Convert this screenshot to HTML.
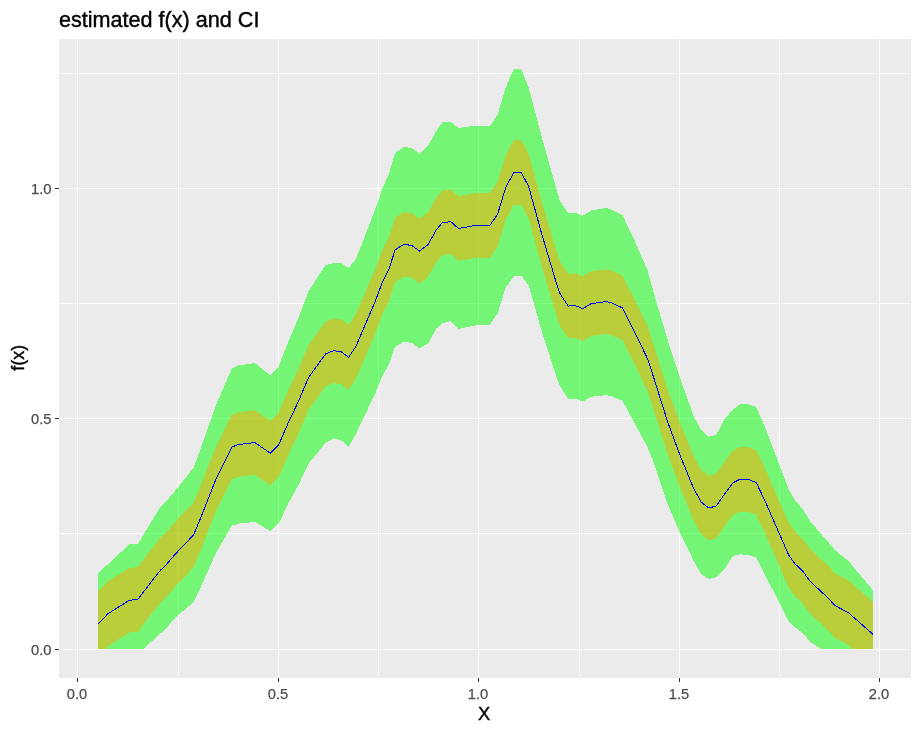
<!DOCTYPE html>
<html lang="en"><head><meta charset="utf-8"><title>estimated f(x) and CI</title>
<style>html,body{margin:0;padding:0;background:#fff;}body{width:921px;height:733px;overflow:hidden;}svg{display:block;}</style>
</head><body>
<svg width="921" height="733" viewBox="0 0 921 733">
<rect x="0" y="0" width="921" height="733" fill="#ffffff"/>
<rect x="59" y="39" width="852.00" height="639.00" fill="#EBEBEB"/>
<clipPath id="pc"><rect x="59" y="39" width="852.00" height="639.00"/></clipPath>
<g clip-path="url(#pc)">
<g stroke="#FFFFFF" stroke-width="1" shape-rendering="crispEdges">
<line x1="178.50" x2="178.50" y1="39" y2="678"/>
<line x1="378.50" x2="378.50" y1="39" y2="678"/>
<line x1="579.50" x2="579.50" y1="39" y2="678"/>
<line x1="779.50" x2="779.50" y1="39" y2="678"/>
<line y1="533.50" y2="533.50" x1="59" x2="911"/>
<line y1="303.50" y2="303.50" x1="59" x2="911"/>
<line y1="73.50" y2="73.50" x1="59" x2="911"/>
</g>
<g stroke="#FFFFFF" stroke-width="1" shape-rendering="crispEdges">
<line x1="77.50" x2="77.50" y1="39" y2="678"/>
<line x1="278.50" x2="278.50" y1="39" y2="678"/>
<line x1="478.50" x2="478.50" y1="39" y2="678"/>
<line x1="679.50" x2="679.50" y1="39" y2="678"/>
<line x1="879.50" x2="879.50" y1="39" y2="678"/>
<line y1="649.50" y2="649.50" x1="59" x2="911"/>
<line y1="418.50" y2="418.50" x1="59" x2="911"/>
<line y1="188.50" y2="188.50" x1="59" x2="911"/>
</g>
<polygon points="98.1,573.2 108.0,564.1 129.3,544.3 138.0,543.9 151.2,521.8 160.4,507.0 165.5,502.0 175.6,490.3 193.6,467.6 199.9,450.7 216.1,404.7 231.9,368.4 238.6,365.4 254.8,363.1 270.3,375.4 278.6,366.5 288.7,340.7 298.5,317.6 308.6,291.2 325.5,265.0 333.6,263.1 341.1,263.1 348.7,267.9 356.1,258.7 374.8,210.5 382.5,188.0 388.7,174.5 395.1,153.2 403.6,147.0 411.7,148.0 419.6,153.7 428.2,145.7 436.2,131.1 442.4,122.3 450.8,122.1 458.4,127.9 468.2,126.7 473.0,125.8 481.0,125.9 489.9,126.1 497.6,114.9 505.7,87.4 513.9,68.7 521.2,69.2 528.7,87.5 541.1,134.5 556.0,187.8 560.0,201.2 568.2,213.2 574.9,212.7 582.9,215.7 591.2,210.5 606.2,208.0 610.4,209.0 622.4,215.0 633.7,238.6 647.5,270.2 653.7,292.6 667.4,339.1 679.9,377.4 693.7,416.2 701.2,430.2 708.6,436.7 716.1,435.1 724.9,418.7 733.0,409.5 739.9,404.4 748.0,404.0 756.1,407.1 764.8,426.5 788.6,489.1 794.9,500.1 802.4,508.7 809.9,520.8 827.4,541.2 834.8,549.9 848.6,561.1 873.0,590.4 873.0,649.0 848.6,649.0 834.8,649.0 827.4,649.0 820.8,649.0 809.9,641.4 802.4,632.7 794.9,627.3 788.6,620.7 764.8,574.5 756.1,557.7 748.0,554.8 739.9,554.4 733.0,555.9 724.9,568.5 716.1,577.1 708.6,579.3 701.2,573.8 693.7,561.0 679.9,532.4 667.4,503.3 653.7,462.4 647.5,447.2 633.7,421.4 622.4,400.8 610.4,395.8 606.2,395.2 591.2,396.7 582.9,401.5 574.9,398.5 568.2,399.0 560.0,386.0 556.0,375.8 541.1,329.1 528.7,285.5 521.2,275.6 513.9,276.1 505.7,287.4 497.6,313.5 489.9,324.5 481.0,325.1 473.0,325.6 468.2,326.9 458.4,329.1 450.8,321.1 442.4,323.1 436.2,328.7 428.2,343.1 419.6,348.5 411.7,342.8 403.6,341.8 395.1,346.8 388.7,365.1 382.5,375.6 374.8,394.3 356.1,433.5 348.7,446.7 341.1,440.3 333.6,438.3 325.5,443.0 308.6,463.6 298.5,484.8 288.7,502.9 278.6,523.5 270.3,531.0 254.8,521.9 238.6,523.6 231.9,525.6 216.1,552.7 199.9,589.1 193.6,602.2 175.6,617.3 165.5,629.0 160.4,633.6 151.2,641.8 143.8,649.0 138.0,649.0 129.3,649.0 108.0,649.0 98.1,649.0" fill="#00FF00" fill-opacity="0.5" shape-rendering="crispEdges"/>
<polygon points="98.1,591.4 108.0,581.4 129.3,568.0 138.0,567.0 151.2,549.5 160.4,538.0 165.5,533.2 175.6,521.5 193.6,502.6 199.9,487.6 216.1,446.4 231.9,414.7 238.6,412.2 254.8,410.2 270.3,420.9 278.6,412.7 288.7,389.5 298.5,368.9 308.6,345.1 325.5,321.7 333.6,318.4 341.1,319.4 348.7,325.0 356.1,313.8 374.8,270.1 382.5,249.5 388.7,237.5 395.1,217.7 403.6,212.1 411.7,213.1 419.6,218.8 428.2,212.1 436.2,197.6 442.4,190.4 450.8,189.3 458.4,196.2 468.2,194.5 473.0,193.4 481.0,193.2 489.9,193.0 497.6,181.9 505.7,155.1 513.9,140.1 521.2,140.1 528.7,154.2 541.1,199.5 556.0,249.5 560.0,261.3 568.2,273.8 574.9,273.3 582.9,276.3 591.2,271.3 606.2,269.3 610.4,270.1 622.4,275.6 633.7,297.7 647.5,326.4 653.7,345.2 667.4,388.9 679.9,422.6 693.7,456.3 701.2,469.7 708.6,475.7 716.1,473.8 724.9,461.3 733.0,450.4 739.9,447.1 748.0,447.1 756.1,450.1 764.8,468.2 788.6,522.6 794.9,531.4 802.4,538.4 809.9,548.8 827.4,565.1 834.8,573.1 848.6,580.6 873.0,602.0 873.0,649.0 852.9,649.0 848.6,645.2 834.8,637.7 827.4,629.7 809.9,613.4 802.4,603.0 794.9,596.0 788.6,587.2 764.8,532.8 756.1,514.7 748.0,511.7 739.9,511.7 733.0,515.0 724.9,525.9 716.1,538.4 708.6,540.3 701.2,534.3 693.7,520.9 679.9,487.2 667.4,453.5 653.7,409.8 647.5,391.0 633.7,362.3 622.4,340.2 610.4,334.7 606.2,333.9 591.2,335.9 582.9,340.9 574.9,337.9 568.2,338.4 560.0,325.9 556.0,314.1 541.1,264.1 528.7,218.8 521.2,204.7 513.9,204.7 505.7,219.7 497.6,246.5 489.9,257.6 481.0,257.8 473.0,258.0 468.2,259.1 458.4,260.8 450.8,253.9 442.4,255.0 436.2,262.2 428.2,276.7 419.6,283.4 411.7,277.7 403.6,276.7 395.1,282.3 388.7,302.1 382.5,314.1 374.8,334.7 356.1,378.4 348.7,389.6 341.1,384.0 333.6,383.0 325.5,386.3 308.6,409.7 298.5,433.5 288.7,454.1 278.6,477.3 270.3,485.5 254.8,474.8 238.6,476.8 231.9,479.3 216.1,511.0 199.9,552.2 193.6,567.2 175.6,586.1 165.5,597.8 160.4,602.6 151.2,614.1 138.0,631.6 129.3,632.6 108.0,646.0 105.0,649.0 98.1,649.0" fill="#FFA500" fill-opacity="0.5" shape-rendering="crispEdges"/>
<polyline points="98.1,623.7 108.0,613.7 129.3,600.3 138.0,599.3 151.2,581.8 160.4,570.3 165.5,565.5 175.6,553.8 193.6,534.9 199.9,519.9 216.1,478.7 231.9,447.0 238.6,444.5 254.8,442.5 270.3,453.2 278.6,445.0 288.7,421.8 298.5,401.2 308.6,377.4 325.5,354.0 333.6,350.7 341.1,351.7 348.7,357.3 356.1,346.1 374.8,302.4 382.5,281.8 388.7,269.8 395.1,250.0 403.6,244.4 411.7,245.4 419.6,251.1 428.2,244.4 436.2,229.9 442.4,222.7 450.8,221.6 458.4,228.5 468.2,226.8 473.0,225.7 481.0,225.5 489.9,225.3 497.6,214.2 505.7,187.4 513.9,172.4 521.2,172.4 528.7,186.5 541.1,231.8 556.0,281.8 560.0,293.6 568.2,306.1 574.9,305.6 582.9,308.6 591.2,303.6 606.2,301.6 610.4,302.4 622.4,307.9 633.7,330.0 647.5,358.7 653.7,377.5 667.4,421.2 679.9,454.9 693.7,488.6 701.2,502.0 708.6,508.0 716.1,506.1 724.9,493.6 733.0,482.7 739.9,479.4 748.0,479.4 756.1,482.4 764.8,500.5 788.6,554.9 794.9,563.7 802.4,570.7 809.9,581.1 827.4,597.4 834.8,605.4 848.6,612.9 873.0,634.3" fill="none" stroke="#0000FF" stroke-width="1" stroke-linejoin="round" shape-rendering="crispEdges"/>
</g>
<g stroke="#333333" stroke-width="1" shape-rendering="crispEdges">
<line x1="77.50" x2="77.50" y1="678" y2="682.00"/>
<line x1="278.50" x2="278.50" y1="678" y2="682.00"/>
<line x1="478.50" x2="478.50" y1="678" y2="682.00"/>
<line x1="679.50" x2="679.50" y1="678" y2="682.00"/>
<line x1="879.50" x2="879.50" y1="678" y2="682.00"/>
<line y1="649.50" y2="649.50" x1="55.00" x2="59"/>
<line y1="418.50" y2="418.50" x1="55.00" x2="59"/>
<line y1="188.50" y2="188.50" x1="55.00" x2="59"/>
</g>
<g font-family="Liberation Sans, Arial, sans-serif" font-size="14.67" fill="#4D4D4D" stroke="#4D4D4D" stroke-width="0.25">
<text x="77.00" y="698.5" text-anchor="middle">0.0</text>
<text x="278.00" y="698.5" text-anchor="middle">0.5</text>
<text x="478.00" y="698.5" text-anchor="middle">1.0</text>
<text x="679.00" y="698.5" text-anchor="middle">1.5</text>
<text x="879.00" y="698.5" text-anchor="middle">2.0</text>
<text x="51.4" y="655.20" text-anchor="end">0.0</text>
<text x="51.4" y="424.20" text-anchor="end">0.5</text>
<text x="51.4" y="194.20" text-anchor="end">1.0</text>
</g>
<g font-family="Liberation Sans, Arial, sans-serif" fill="#000000" stroke="#000000" stroke-width="0.4">
<text x="484.20" y="719.9" font-size="18.33" text-anchor="middle">X</text>
<text transform="translate(23.6,357.70) rotate(-90)" font-size="18" text-anchor="middle">f(x)</text>
<text x="59.00" y="26.5" font-size="21.6">estimated f(x) and CI</text>
</g>
</svg>
</body></html>
